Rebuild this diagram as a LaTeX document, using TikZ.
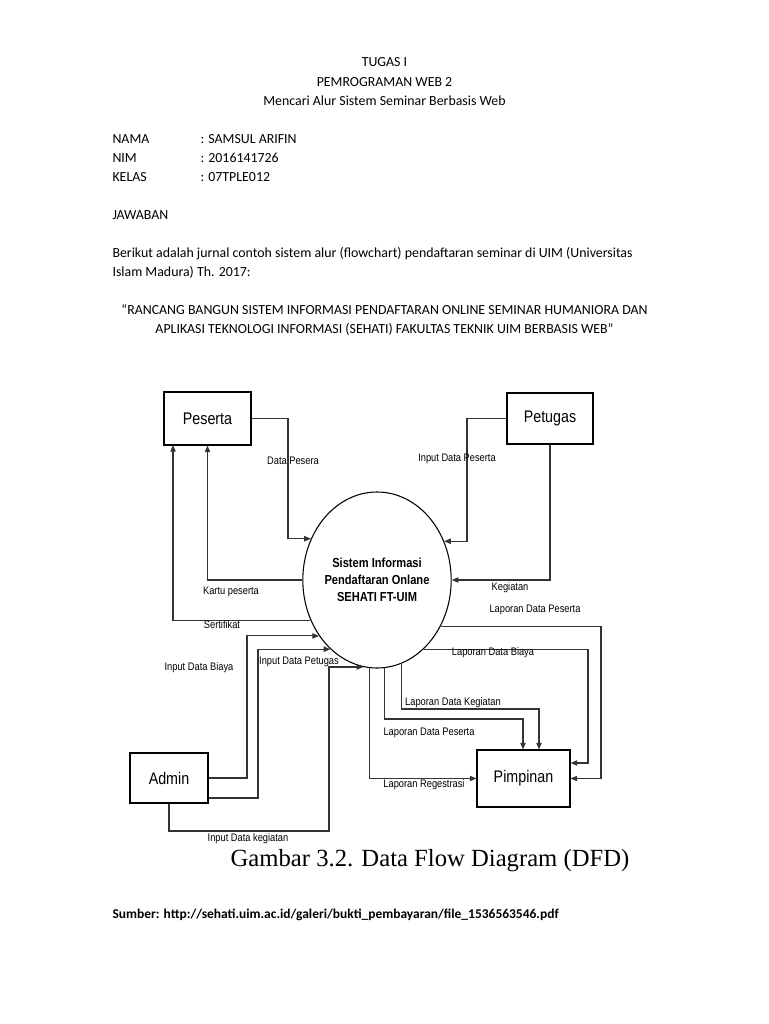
\documentclass[tikz,border=0pt]{standalone}
\usepackage{fontspec}
\setmainfont{Carlito}
\newfontfamily\dfdfont[FakeStretch=0.85]{Liberation Sans}
\newfontfamily\capfont{Liberation Serif}
\usetikzlibrary{arrows.meta,shapes.geometric}

\begin{document}
\begin{tikzpicture}[x=0.75pt,y=-0.75pt,>={Triangle[length=5pt,width=4pt]},line width=0.8pt,
  entitas/.style={draw,rectangle,inner sep=0pt,font=\dfdfont\fontsize{12.6}{14}\selectfont},
  proses/.style={draw,ellipse,inner sep=0pt,align=center,minimum width=105pt,minimum height=132pt,
    font=\dfdfont\bfseries\fontsize{9.8}{12.75}\selectfont},
  alur/.style={->,draw=black!80},
  ket/.style={inner sep=0pt,font=\dfdfont\fontsize{8.2}{9}\selectfont},
  teks/.style={anchor=base west,inner sep=0pt,font=\fontsize{10.4}{13}\selectfont},
  judul/.style={anchor=base,inner sep=0pt,font=\fontsize{10.4}{13}\selectfont}]
  \useasboundingbox (0,0) rectangle (768,1024);
  \fill[white] (0,0) rectangle (768,1024);

  % kepala tugas
  \node[judul] (t1) at (384.5,67) {TUGAS I};
  \node[judul] (t2) at (384.5,86) {PEMROGRAMAN WEB 2};
  \node[judul] (t3) at (384.5,105) {Mencari Alur Sistem Seminar Berbasis Web};

  \node[teks] (nama) at (112,143) {NAMA};
  \node[teks] (nim) at (112,162) {NIM};
  \node[teks] (kelas) at (112,181) {KELAS};
  \node[teks] (nama2) at (200,143) {: SAMSUL ARIFIN};
  \node[teks] (nim2) at (200,162) {: 2016141726};
  \node[teks] (kelas2) at (200,181) {: 07TPLE012};

  \node[teks] (jawab) at (112,219) {JAWABAN};
  \node[teks] (isi1) at (112,257) {Berikut adalah jurnal contoh sistem alur (flowchart) pendaftaran seminar di UIM (Universitas};
  \node[teks] (isi2) at (112,276) {Islam Madura) Th. 2017:};
  \node[judul] (kutip1) at (384.5,314) {“RANCANG BANGUN SISTEM INFORMASI PENDAFTARAN ONLINE SEMINAR HUMANIORA DAN};
  \node[judul] (kutip2) at (384.5,333) {APLIKASI TEKNOLOGI INFORMASI (SEHATI) FAKULTAS TEKNIK UIM BERBASIS WEB”};

  % entitas dan proses
  \node[entitas,minimum width=65.25pt,minimum height=39.75pt] (peserta) at (207.5,418.5) {Peserta};
  \node[entitas,minimum width=64.5pt,minimum height=38.25pt] (petugas) at (550,418.5) {Petugas};
  \node[entitas,minimum width=58.5pt,minimum height=37.5pt] (admin) at (169,778) {Admin};
  \node[entitas,minimum width=69.75pt,minimum height=42.75pt] (pimpinan) at (523.5,778.5) {Pimpinan};
  \node[proses] (sys) at (377,580) {Sistem Informasi\\Pendaftaran Onlane\\SEHATI FT-UIM};

  % titik belok
  \coordinate (dp) at (288,480);
  \coordinate (srt) at (173,445);
  \coordinate (idp) at (467,480);
  \coordinate (idb) at (247,700);
  \coordinate (ipt) at (258,700);
  \coordinate (ikg) at (329,831);
  \coordinate (ldp) at (601,700);
  \coordinate (ldb) at (588,763);
  \coordinate (ldk) at (539,709);
  \coordinate (ldp2) at (523,719);

  % aliran data
  \draw[alur] (peserta.east) -| (dp) |- (sys.148);
  \draw[alur] (sys.180) -| (peserta.south);
  \draw[alur] (sys.211) -| (srt);
  \draw[alur] (petugas.west) -| (idp) |- (sys.30);
  \draw[alur] (petugas.south) |- (sys.0);
  \draw[alur] (admin.east) -| (idb) |- (sys.224.5);
  \draw[alur] (admin.east) ++(0,20) -| (ipt) |- (sys.236.5);
  \draw[alur] (admin.south) |- (ikg) |- (sys.261);
  \draw[alur] (sys.324) -| (ldp) |- (pimpinan.east);
  \draw[alur] (sys.304.5) -| (ldb) -- (ldb -| pimpinan.east);
  \draw[alur] (sys.286) |- (ldk) -- (ldk |- pimpinan.north);
  \draw[alur] (sys.275) |- (ldp2) -- (ldp2 |- pimpinan.north);
  \draw[alur] (sys.265) |- (pimpinan.west);

  % keterangan aliran
  \node[ket] (k1) at (293,461) {Data Pesera};
  \node[ket] (k2) at (231,592) {Kartu peserta};
  \node[ket] (k3) at (222,625) {Sertifikat};
  \node[ket] (k4) at (457,459) {Input Data Peserta};
  \node[ket] (k5) at (510,588) {Kegiatan};
  \node[ket] (k6) at (535,610) {Laporan Data Peserta};
  \node[ket] (k7) at (493,653) {Laporan Data Biaya};
  \node[ket] (k8) at (453,703) {Laporan Data Kegiatan};
  \node[ket] (k9) at (429,733) {Laporan Data Peserta};
  \node[ket] (k10) at (424,785) {Laporan Regestrasi};
  \node[ket] (k11) at (199,668) {Input Data Biaya};
  \node[ket] (k12) at (299,662) {Input Data Petugas};
  \node[ket] (k13) at (248,839) {Input Data kegiatan};

  \node[anchor=base,inner sep=0pt,font=\capfont\fontsize{18.5}{20}\selectfont] (gambar) at (430,866) {Gambar 3.2. Data Flow Diagram (DFD)};

  \node[teks,font=\bfseries\fontsize{10.1}{13}\selectfont] (sumber) at (112,918) {Sumber: http://sehati.uim.ac.id/galeri/bukti\_pembayaran/file\_1536563546.pdf};
\end{tikzpicture}
\end{document}
